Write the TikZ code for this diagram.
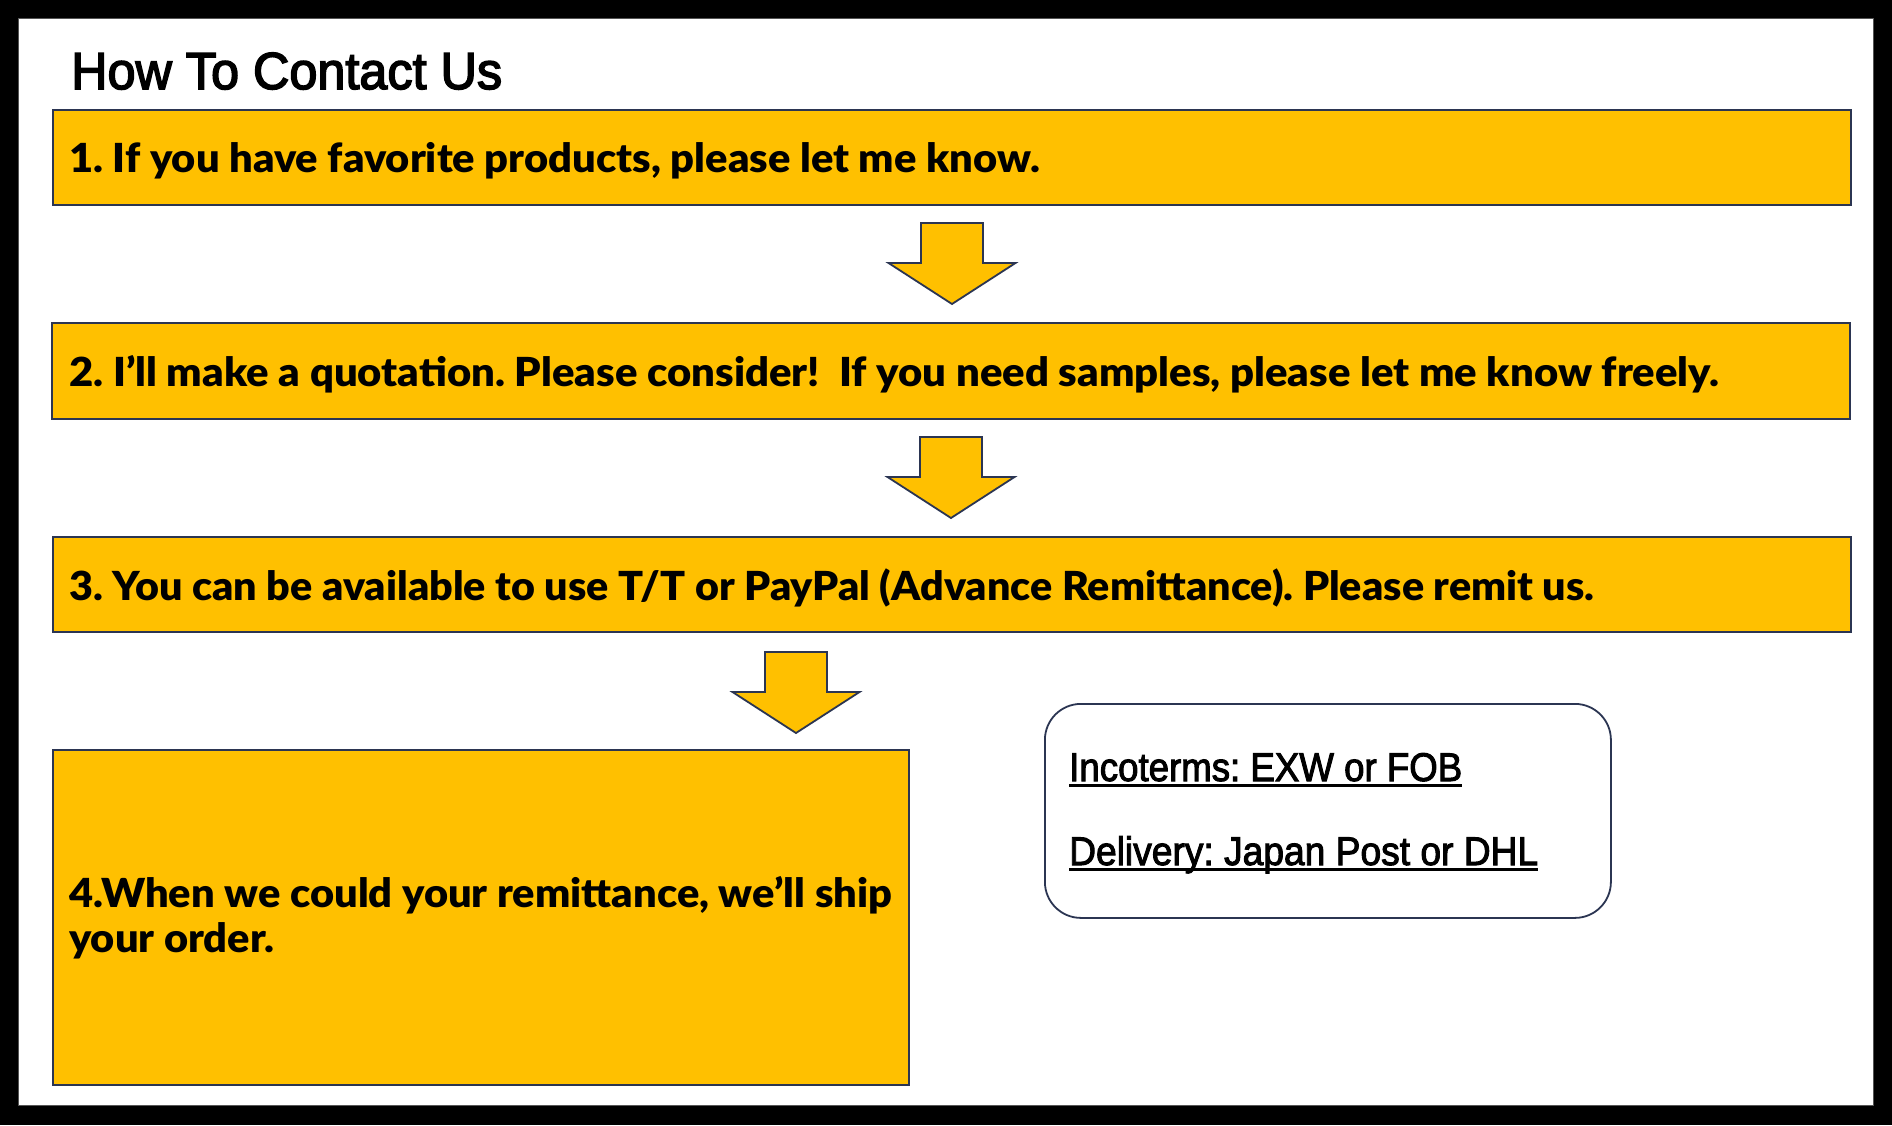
\documentclass[tikz,border=0pt]{standalone}
\usepackage{fontspec}
\usepackage{graphicx}
\setmainfont{Liberation Sans}
\newfontfamily\boxfont{Lato Black}
\newfontfamily\medfont{Liberation Sans}[FakeBold=3]
\newfontfamily\notefont{Liberation Sans}[FakeBold=2.5]
\definecolor{gold}{HTML}{FFC000}
\definecolor{navy}{HTML}{2B3552}
\definecolor{framegray}{HTML}{555555}
\newcommand\fitw[2]{\resizebox{#1}{\height}{#2}}
\newcommand\ulfit[2]{\setbox0\hbox{\fitw{#1}{#2}}\rlap{\rule[-5.5pt]{\wd0}{2.2pt}}\box0}
\tikzset{
  stepbox/.style={draw=navy, line width=1.6pt, fill=gold, inner sep=0pt, outer sep=0pt, anchor=north west},
  boxtext/.style={inner sep=0pt, anchor=base west, font=\boxfont\frenchspacing\fontsize{40}{45}\selectfont},
  notebox/.style={draw=navy, line width=1.8pt, fill=white, rounded corners=36pt, inner sep=0pt, anchor=north west},
  notetext/.style={inner sep=0pt, anchor=base west, font=\notefont\frenchspacing\fontsize{40}{44}\selectfont},
  titletext/.style={inner sep=0pt, anchor=base west, font=\medfont\fontsize{52}{56}\selectfont},
  downarrow/.pic={\draw[draw=navy, line width=1.8pt, fill=gold, line join=miter]
     (-31,0) -- (31,0) -- (31,40) -- (63.5,40) -- (0,81) -- (-63.5,40) -- (-31,40) -- cycle;}
}
\begin{document}
\begin{tikzpicture}[x=1pt,y=-1pt]
\useasboundingbox (0,0) rectangle (1892,1125);
\fill[black] (0,0) rectangle (1892,1125);
\draw[fill=white, draw=framegray, line width=1pt] (18,18) rectangle (1873,1105);

\node[titletext] (title) at (71,89) {\fitw{431pt}{How To Contact Us}};

\node[stepbox, minimum width=1798pt, minimum height=95pt] (b1) at (53,110) {};
\node[boxtext] (t1) at (69,172.5) {\fitw{971pt}{1. If you have favorite products, please let me know.}};

\node[stepbox, minimum width=1798pt, minimum height=96pt] (b2) at (52,323) {};
\node[boxtext] (t2) at (69,386) {\fitw{1650pt}{2. I’ll make a quotation. Please consider!\ \ If you need samples, please let me know freely.}};

\node[stepbox, minimum width=1798pt, minimum height=95pt] (b3) at (53,537) {};
\node[boxtext] (t3) at (69,600) {\fitw{1525pt}{3. You can be available to use T/T or PayPal (Advance Remittance). Please remit us.}};

\node[stepbox, minimum width=856pt, minimum height=335pt] (b4) at (53,750) {};
\node[boxtext] (t4) at (69,907) {\fitw{823pt}{\begin{tabular}[t]{@{}l@{}}4.When we could your remittance, we’ll ship\\your order.\end{tabular}}};

\pic at (952,223) {downarrow};
\pic at (951,437) {downarrow};
\pic at (796,652) {downarrow};

\node[notebox, minimum width=566pt, minimum height=214pt] (note) at (1044,703) {};
\node[notetext] (n1) at (1069,781) {\ulfit{393pt}{Incoterms: EXW or FOB}};
\node[notetext] (n2) at (1069,865) {\ulfit{469pt}{Delivery: Japan Post or DHL}};
\end{tikzpicture}
\end{document}
